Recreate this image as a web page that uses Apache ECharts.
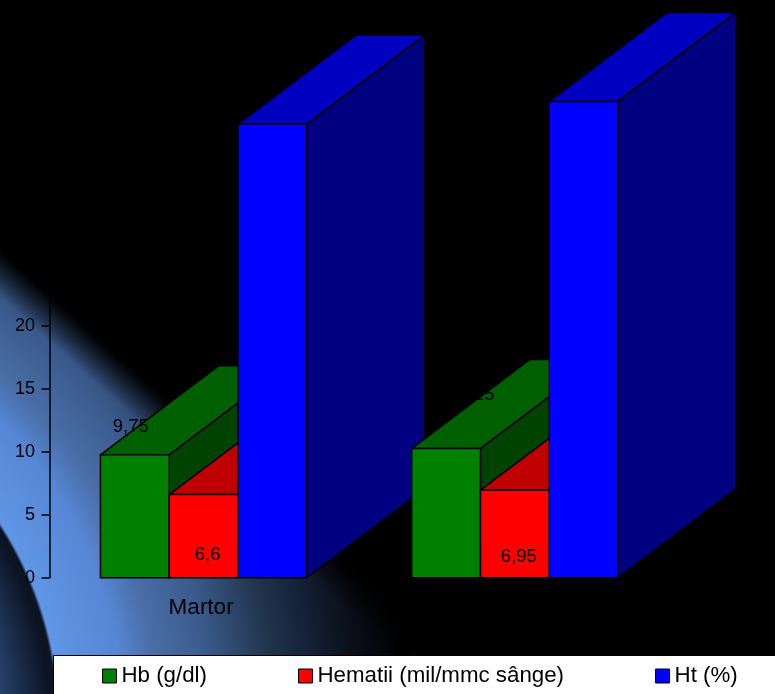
<!DOCTYPE html>
<html>
<head>
<meta charset="utf-8">
<style>html,body{margin:0;padding:0;background:#000}#chart{width:775px;height:694px}</style>
<script src="https://cdn.jsdelivr.net/npm/echarts@6/dist/echarts.min.js"></script>
</head>
<body>
<div id="chart"></div>
<script>
// Blood parameters for the two groups
const categories = ['Martor', ''];
const hb = [9.75, 10.25];
const hematii = [6.6, 6.95];
const ht = [36, 37.8];
const seriesNames = ['Hb (g/dl)', 'Hematii (mil/mmc sânge)', 'Ht (%)'];

// Extruded bar styling: front, top and side faces
const faces = [
  { front: '#008000', top: '#006000', side: '#004300' },
  { front: '#ff0000', top: '#c00000', side: '#800000' },
  { front: '#0000ff', top: '#0000c0', side: '#000080' }
];
const DEPTH_X = 118;
const DEPTH_Y = 89;
const FONT = '"Liberation Sans", Arial, sans-serif';

// Hand-placed value labels, relative to the top centre of each bar's front face
const labelNudge = [
  [[-4, -28], [25, -54]],
  [[4, 60.5], [4, 67]],
  null
];

function makeRenderer(seriesIndex) {
  return function (params, api) {
    const cat = api.value(0);
    const val = api.value(1);
    const top = api.coord([cat, val]);
    const base = api.coord([cat, 0]);
    const band = api.size([1, 0])[0];
    const w = band * 0.221;
    const x0 = top[0] + (seriesIndex - 1.5) * w;
    const x1 = x0 + w;
    const yT = top[1];
    const yB = base[1];
    const f = faces[seriesIndex];
    const z2 = cat * 10 + seriesIndex;
    const edge = { stroke: '#000', lineWidth: 1.5, lineJoin: 'round' };
    const children = [
      {
        type: 'polygon', z2: z2,
        shape: { points: [[x0, yT], [x0 + DEPTH_X, yT - DEPTH_Y], [x1 + DEPTH_X, yT - DEPTH_Y], [x1, yT]] },
        style: Object.assign({ fill: f.top }, edge)
      },
      {
        type: 'polygon', z2: z2,
        shape: { points: [[x1, yT], [x1 + DEPTH_X, yT - DEPTH_Y], [x1 + DEPTH_X, yB - DEPTH_Y], [x1, yB]] },
        style: Object.assign({ fill: f.side }, edge)
      },
      {
        type: 'rect', z2: z2,
        shape: { x: x0, y: yT, width: w, height: yB - yT },
        style: Object.assign({ fill: f.front }, edge)
      }
    ];
    const nudge = labelNudge[seriesIndex];
    if (nudge) {
      children.push({
        type: 'text', z2: 100,
        x: x0 + w / 2 + nudge[cat][0],
        y: yT + nudge[cat][1],
        style: {
          text: String(val).replace('.', ','),
          fill: '#000',
          font: '18.5px ' + FONT,
          textAlign: 'center',
          textVerticalAlign: 'middle'
        }
      });
    }
    return { type: 'group', children: children };
  };
}

const seriesValues = [hb, hematii, ht];

const chart = echarts.init(document.getElementById('chart'), null, { renderer: 'canvas' });
chart.setOption({
  animation: false,
  backgroundColor: '#000',
  graphic: [
    {
      // Blue crescent behind the plot
      type: 'rect', z: -20, silent: true,
      shape: { x: 0, y: 0, width: 775, height: 694 },
      style: {
        fill: {
          type: 'radial', x: -300, y: 720, r: 730, global: true,
          colorStops: [
            { offset: 0, color: '#3a5c94' },
            { offset: 0.397, color: '#2e4c7c' },
            { offset: 0.478, color: '#0c1424' },
            { offset: 0.488, color: '#0c1424' },
            { offset: 0.492, color: '#6096e6' },
            { offset: 0.581, color: '#5686d4' },
            { offset: 0.625, color: '#4a6ea8' },
            { offset: 0.70, color: '#3a5a8c' },
            { offset: 0.78, color: '#22364f' },
            { offset: 0.833, color: '#16233a' },
            { offset: 0.90, color: '#0a0e18' },
            { offset: 0.97, color: '#000000' },
            { offset: 1, color: '#000000' }
          ]
        }
      }
    },
    {
      // Soft black edge along the top of the crescent
      type: 'rect', z: -19, silent: true,
      shape: { x: 0, y: 0, width: 775, height: 694 },
      style: {
        fill: {
          type: 'linear', x: 100, y: 340, x2: 76.6, y2: 366, global: true,
          colorStops: [
            { offset: 0, color: 'rgba(0,0,0,1)' },
            { offset: 1, color: 'rgba(0,0,0,0)' }
          ]
        }
      }
    },
    {
      // White band under the legend
      type: 'rect', z: 3, silent: true,
      shape: { x: 53.5, y: 655.5, width: 730, height: 50 },
      style: { fill: '#fff', stroke: '#000', lineWidth: 1 }
    }
  ],
  grid: { left: 48, top: 73.7, width: 622.5, height: 504 },
  xAxis: {
    type: 'category',
    data: categories,
    axisLine: { show: false },
    axisTick: { show: false },
    axisLabel: { color: '#000', fontFamily: FONT, fontSize: 22.5, margin: 19, interval: 0, padding: [0, 5, 0, 0] }
  },
  yAxis: {
    type: 'value',
    min: 0, max: 40, interval: 5,
    offset: -1.5,
    splitLine: { show: false },
    axisLine: { show: true, lineStyle: { color: '#000', width: 1.5 } },
    axisTick: { show: true, length: 8, lineStyle: { color: '#000', width: 1.5 } },
    axisLabel: { color: '#000', fontFamily: FONT, fontSize: 18, margin: 14.5 }
  },
  legend: {
    left: 102, top: 665,
    padding: 0,
    itemWidth: 14, itemHeight: 14, itemGap: 91,
    selectedMode: false,
    textStyle: { color: '#000', fontFamily: FONT, fontSize: 22.3 },
    data: seriesNames.map((name, i) => ({
      name: name, icon: 'rect',
      itemStyle: { color: faces[i].front, borderColor: '#000', borderWidth: 1 }
    }))
  },
  series: seriesNames.map((name, i) => ({
    name: name,
    type: 'custom',
    renderItem: makeRenderer(i),
    itemStyle: { color: faces[i].front },
    encode: { x: 0, y: 1 },
    data: seriesValues[i].map((v, c) => [c, v])
  }))
});
</script>
</body>
</html>
